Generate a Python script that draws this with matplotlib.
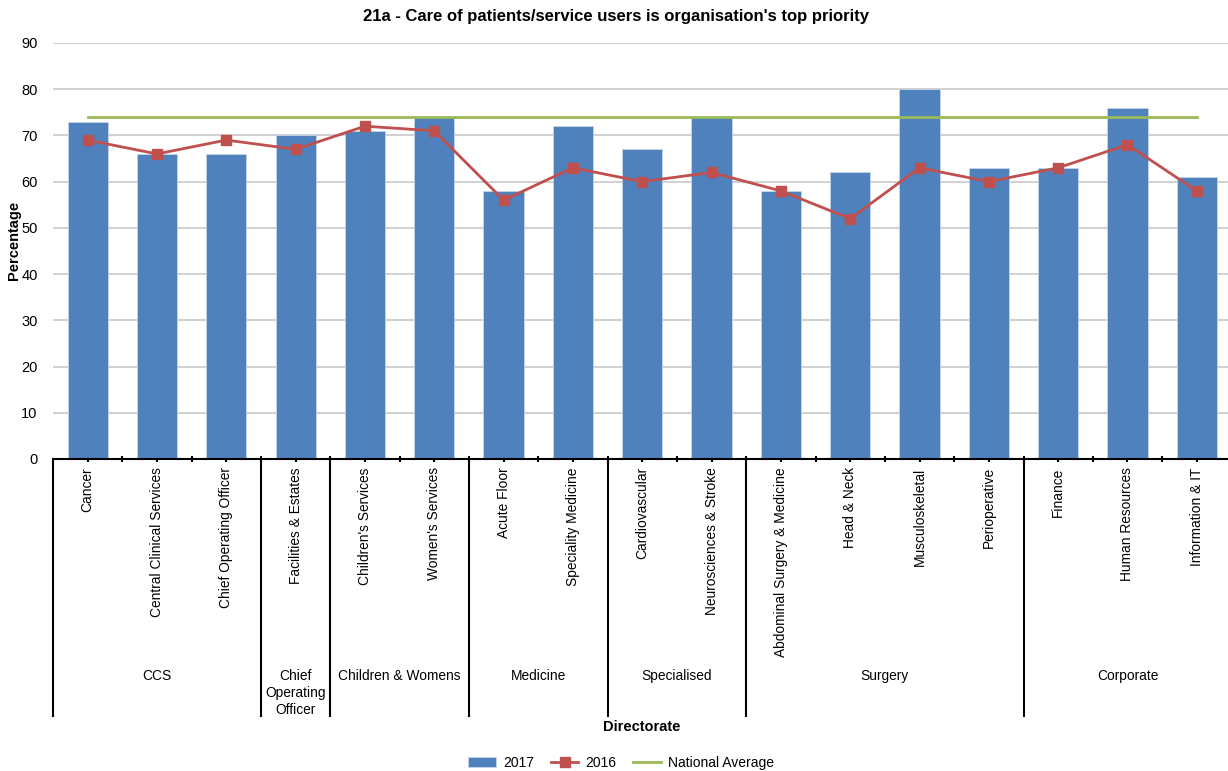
import matplotlib.pyplot as plt
import matplotlib.transforms as mtransforms
import numpy as np

plt.rcParams['font.family'] = ['Liberation Sans', 'DejaVu Sans']

# data
categories = ['Cancer', 'Central Clinical Services', 'Chief Operating Officer',
              'Facilities & Estates', "Children's Services", "Women's Services",
              'Acute Floor', 'Speciality Medicine', 'Cardiovascular',
              'Neurosciences & Stroke', 'Abdominal Surgery & Medicine', 'Head & Neck',
              'Musculoskeletal', 'Perioperative', 'Finance', 'Human Resources',
              'Information & IT']
values_2017 = [73, 66, 66, 70, 71, 74, 58, 72, 67, 74, 58, 62, 80, 63, 63, 76, 61]
values_2016 = [69, 66, 69, 67, 72, 71, 56, 63, 60, 62, 58, 52, 63, 60, 63, 68, 58]
national_avg = 74

groups = ['CCS', 'Chief\nOperating\nOfficer', 'Children & Womens', 'Medicine',
          'Specialised', 'Surgery', 'Corporate']
group_sizes = [3, 1, 2, 2, 2, 4, 3]

W, H = 1228, 771
fig = plt.figure(figsize=(W / 100, H / 100), dpi=100)
ax = fig.add_axes([53 / W, 1 - 459 / H, 1 - 53 / W, (459 - 43) / H])

x = np.arange(len(categories))
bars = ax.bar(x, values_2017, width=0.58, color='#4F81BD', edgecolor='#C6D5EA',
              linewidth=0.6, label='2017', zorder=2)
line16, = ax.plot(x, values_2016, color='#C0504D', lw=2, marker='s', markersize=7,
                  label='2016', zorder=3)
natl, = ax.plot([x[0], x[-1]], [national_avg, national_avg], color='#9BBB59', lw=2,
                label='National Average', zorder=4)

ax.set_ylim(0, 90)
ax.set_xlim(-0.5, len(categories) - 0.55)
ax.set_yticks(range(0, 91, 10))
ax.yaxis.grid(True, color='#C8C8C8', lw=1.2)
ax.set_axisbelow(True)
ax.tick_params(axis='y', length=0, labelsize=10.5, pad=11)
for s in ['top', 'right', 'left']:
    ax.spines[s].set_visible(False)
ax.spines['bottom'].set_linewidth(1.5)

ax.set_xticks(x)
ax.set_xticklabels(categories, rotation=90, fontsize=9.9, va='top')
ax.set_xticks(x[:-1] + 0.5, minor=True)
ax.tick_params(axis='x', which='both', length=4, width=1.5, direction='inout', pad=4)

# group separators and labels below the axis
trans = mtransforms.blended_transform_factory(ax.transData, fig.transFigure)
y_axis = 1 - 459 / H
y_end = 1 - 716 / H
bounds = np.concatenate([[0], np.cumsum(group_sizes)]) - 0.5
for b in bounds[:-1]:
    ax.plot([b, b], [y_axis, y_end], color='black', lw=1.5, transform=trans,
            clip_on=False)
for g, lo, hi in zip(groups, bounds[:-1], bounds[1:]):
    ax.text((lo + hi) / 2, 1 - 669 / H, g, transform=trans, ha='center', va='top',
            fontsize=9.9, linespacing=1.28)

fig.text(14 / W, 1 - 240 / H, 'Percentage', rotation=90, ha='center', va='center',
         fontsize=10.5, fontweight='bold')
fig.text(642 / W, 1 - 727 / H, 'Directorate', ha='center', va='center',
         fontsize=10.5, fontweight='bold')
fig.text(616 / W, 1 - 17 / H,
         "21a - Care of patients/service users is organisation's top priority",
         ha='center', va='center', fontsize=12, fontweight='bold')

fig.legend([bars, line16, natl], ['2017', '2016', 'National Average'],
           loc='center', bbox_to_anchor=(621 / W, 1 - 763 / H), ncol=3,
           frameon=False, fontsize=10, handlelength=2.0, handletextpad=0.5,
           columnspacing=1.2)

fig.savefig('out.png', dpi=100)
